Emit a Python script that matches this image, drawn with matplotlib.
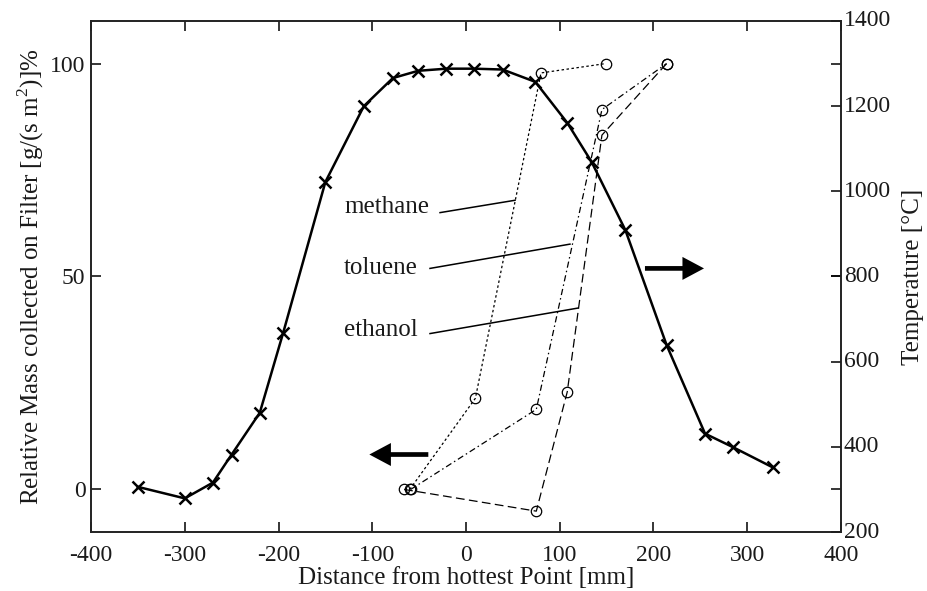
import matplotlib
matplotlib.use("Agg")
import matplotlib.pyplot as plt

# ---- data ----
temp_x = [-350, -300, -270, -250, -220, -195, -150, -109, -78, -51, -21, 9, 39, 74, 108, 134, 170, 214, 255, 285, 327]
temp_c = [306, 279, 316, 382, 480, 668, 1022, 1200, 1266, 1283, 1288, 1288, 1286, 1257, 1161, 1069, 909, 639, 431, 399, 352]

methane_x = [-60, 10, 80, 149]
methane_y = [0, 21.4, 97.8, 100]
toluene_x = [-59, 75, 145, 214]
toluene_y = [0, 18.8, 89.2, 100]
ethanol_x = [-66, 75, 108, 145, 214]
ethanol_y = [0, -5.1, 22.9, 83.2, 100]

labels = ["methane", "toluene", "ethanol"]
label_pos = [(-130, 66.3), (-130, 51.9), (-130, 37.4)]
leader_start = [(-27.7, 65.0), (-38.4, 51.9), (-38.4, 36.6)]
leader_end = [(52.3, 67.9), (110.9, 57.6), (119.8, 42.6)]

x_ticks = [-400, -300, -200, -100, 0, 100, 200, 300, 400]
left_ticks = [0, 50, 100]
right_ticks = [200, 400, 600, 800, 1000, 1200, 1400]

FONT = "Liberation Serif"
plt.rcParams['font.family'] = [FONT, 'DejaVu Serif']
plt.rcParams['mathtext.fontset'] = 'custom'
plt.rcParams['mathtext.rm'] = FONT
plt.rcParams['axes.unicode_minus'] = False

fig = plt.figure(figsize=(9.27, 5.91), dpi=100)
ax1 = fig.add_axes([0.0982, 0.0998, 0.809, 0.8647])
ax2 = ax1.twinx()

fs = 17
fl = 18
col = '#1a1a1a'

# gas series on the left axis
ax1.plot(methane_x, methane_y, color='black', lw=0.9, dashes=(2.0, 2.0),
         marker='o', ms=7.5, mfc='none', mec='black', mew=0.9)
ax1.plot(toluene_x, toluene_y, color='black', lw=0.9, dashes=(5, 2.5, 1.2, 2.5),
         marker='o', ms=7.5, mfc='none', mec='black', mew=0.9)
ax1.plot(ethanol_x, ethanol_y, color='black', lw=0.9, dashes=(7, 3.5),
         marker='o', ms=7.5, mfc='none', mec='black', mew=0.9)

# labels with leader lines
for lab, (tx, ty), (sx, sy), (ex, ey) in zip(labels, label_pos, leader_start, leader_end):
    ax1.text(tx, ty, lab, fontsize=fl, ha='left', va='center', color=col)
    ax1.plot([sx, ex], [sy, ey], color='black', lw=1.1)

# arrows
ax1.arrow(-40.2, 8.2, -62.9, 0, width=1.1, head_width=5.4, head_length=23,
          length_includes_head=True, color='black', lw=0)
ax1.arrow(190.9, 51.9, 63.0, 0, width=1.1, head_width=5.4, head_length=23,
          length_includes_head=True, color='black', lw=0)

# temperature curve on the right axis
ax2.plot(temp_x, temp_c, color='black', lw=1.8, marker='x', ms=9, mew=1.8)

ax1.set_xlim(-400, 400)
ax1.set_ylim(-10, 110)
ax2.set_ylim(200, 1400)

ax1.set_xticks(x_ticks)
ax1.set_yticks(left_ticks)
ax2.set_yticks(right_ticks)

ax1.tick_params(axis='x', direction='in', top=True, length=7, width=1.1,
                labelsize=fs, pad=9, labelcolor=col)
ax1.tick_params(axis='y', direction='in', right=True, length=7, width=1.1,
                labelsize=fs, pad=4, labelcolor=col)
ax2.tick_params(axis='y', direction='in', length=7, width=1.1, labelsize=fs, pad=2,
                labelcolor=col)
for lbl in ax2.get_yticklabels():
    lbl.set_verticalalignment('center')

for a in (ax1, ax2):
    for s in a.spines.values():
        s.set_linewidth(1.2)
        s.set_color('#222222')

ax1.set_xlabel("Distance from hottest Point [mm]", fontsize=fl, labelpad=1, color=col)
ax1.set_ylabel(r"Relative Mass collected on Filter [g/(s m$^2$)]%", fontsize=fl,
               labelpad=3, color=col)
ax2.set_ylabel("Temperature [°C]", fontsize=fl, labelpad=8, color=col)

fig.savefig("out.png", dpi=100)
